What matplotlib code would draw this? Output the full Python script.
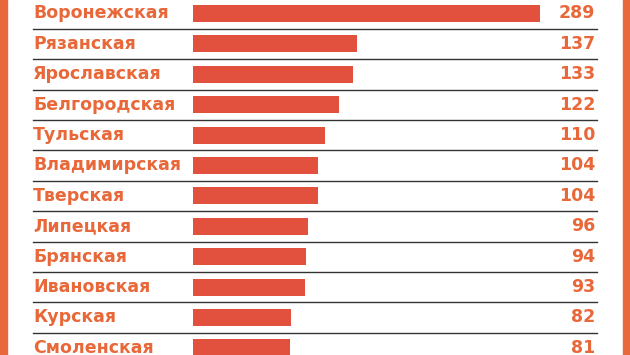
import matplotlib.pyplot as plt
import matplotlib.transforms as mtransforms
from matplotlib.patches import Rectangle

regions = ["Воронежская", "Рязанская", "Ярославская", "Белгородская", "Тульская",
           "Владимирская", "Тверская", "Липецкая", "Брянская", "Ивановская",
           "Курская", "Смоленская"]
values = [289, 137, 133, 122, 110, 104, 104, 96, 94, 93, 82, 81]

W, H = 630, 355
bar_color = "#e2513d"
text_color = "#e8683a"

plt.rcParams['font.family'] = ['Liberation Sans Narrow', 'DejaVu Sans']

fig = plt.figure(figsize=(W / 100, H / 100), dpi=100)
ax = fig.add_axes([0, 0, 1, 1])
ax.set_xlim(-193 / 1.2, (W - 193) / 1.2)
ax.set_ylim((H - 13.5) / 30.4, -13.5 / 30.4)
ax.axis("off")

ypos = list(range(len(regions)))
ax.barh(ypos, values, height=0.56, color=bar_color)

trans = mtransforms.blended_transform_factory(fig.transFigure, ax.transData)
for i, (name, v) in enumerate(zip(regions, values)):
    ax.text(33 / W, i, name, transform=trans, ha="left", va="center",
            fontsize=12.5, fontweight="bold", color=text_color)
    ax.text(595 / W, i, str(v), transform=trans, ha="right", va="center",
            fontsize=12.5, fontweight="bold", color=text_color)
    if i < len(regions) - 1:
        ax.plot([33 / W, 597 / W], [i + 0.5, i + 0.5], transform=trans,
                color="#333333", lw=1.0)

# orange side strips
fig.patches.append(Rectangle((0, 0), 7 / W, 1, transform=fig.transFigure,
                             color="#e8683c", zorder=5))
fig.patches.append(Rectangle((623 / W, 0), 7 / W, 1, transform=fig.transFigure,
                             color="#e8683c", zorder=5))

fig.savefig("out.png", dpi=100)
